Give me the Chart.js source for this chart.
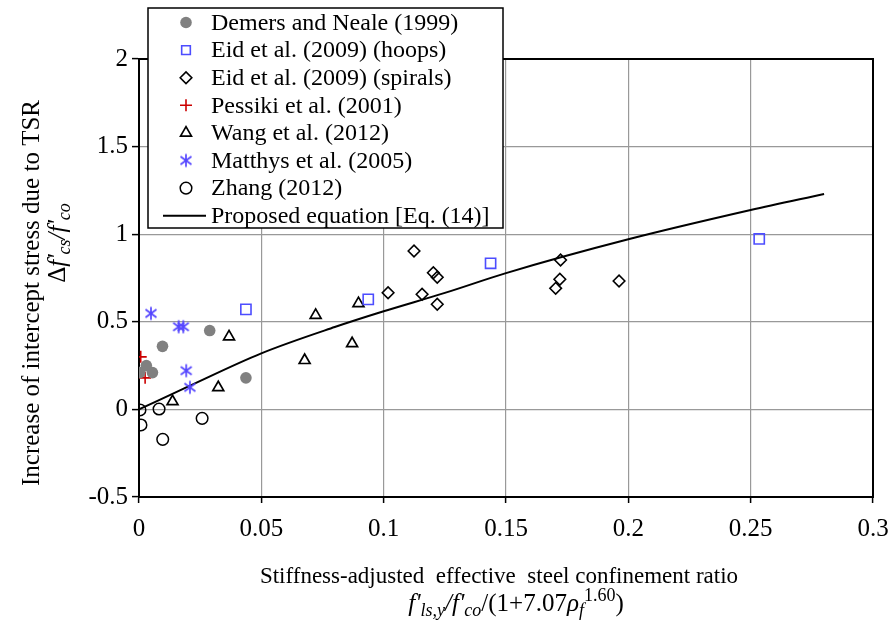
<!DOCTYPE html>
<html>
<head>
<meta charset="utf-8">
<script src="https://cdn.jsdelivr.net/npm/chart.js@4.4.1/dist/chart.umd.min.js"></script>
<style>
  html, body { margin: 0; padding: 0; background: #ffffff; }
  #wrap { width: 894px; height: 625px; position: relative; }
</style>
</head>
<body>
<div id="wrap"><canvas id="c" width="894" height="625"></canvas></div>
<script>
// Tick labels
const xTickLabels = ['0', '0.05', '0.1', '0.15', '0.2', '0.25', '0.3'];
const yTickLabels = ['-0.5', '0', '0.5', '1', '1.5', '2'];

// Series names (legend order)
const seriesNames = [
  'Demers and Neale (1999)',
  'Eid et al. (2009) (hoops)',
  'Eid et al. (2009) (spirals)',
  'Pessiki et al. (2001)',
  'Wang et al. (2012)',
  'Matthys et al. (2005)',
  'Zhang (2012)',
  'Proposed equation [Eq. (14)]'
];

// Test data: x = stiffness-adjusted confinement ratio, y = intercept stress increase
const demersX = [0.0003, 0.0030, 0.0055, 0.0096, 0.0289, 0.0437];
const demersY = [0.21, 0.25, 0.21, 0.36, 0.45, 0.18];

const eidHoopsX = [0.0437, 0.0937, 0.1437, 0.2535];
const eidHoopsY = [0.571, 0.628, 0.834, 0.973];

const eidSpiralsX = [0.1124, 0.1203, 0.1219, 0.1018, 0.1157, 0.1219, 0.1723, 0.1720, 0.1703, 0.1962];
const eidSpiralsY = [0.904, 0.780, 0.754, 0.666, 0.657, 0.600, 0.853, 0.743, 0.691, 0.733];

const pessikiX = [0.0007, 0.0025];
const pessikiY = [0.30, 0.18];

const wangX = [0.0137, 0.0324, 0.0368, 0.0677, 0.0722, 0.0871, 0.0897];
const wangY = [0.045, 0.125, 0.415, 0.280, 0.538, 0.376, 0.605];

const matthysX = [0.0049, 0.0162, 0.0181, 0.0193, 0.0208];
const matthysY = [0.548, 0.472, 0.472, 0.221, 0.126];

const zhangX = [0.0004, 0.0082, 0.0008, 0.0097, 0.0258];
const zhangY = [-0.003, 0.002, -0.089, -0.171, -0.051];

// Proposed equation curve
const proposedX = [0, 0.02, 0.05, 0.08, 0.10, 0.125, 0.15, 0.20, 0.25, 0.28];
const proposedY = [0, 0.13, 0.32, 0.47, 0.56, 0.665, 0.778, 0.971, 1.138, 1.23];

const SERIF = "'Liberation Serif', 'Times New Roman', Times, serif";

const pairs = (xs, ys) => xs.map((x, i) => ({ x: x, y: ys[i] }));

// Six-armed asterisk marker
function makeAsterisk(color, size) {
  const cv = document.createElement('canvas');
  cv.width = size; cv.height = size;
  const g = cv.getContext('2d');
  const c = size / 2;
  g.strokeStyle = color;
  g.lineWidth = 1.7;
  g.lineCap = 'butt';
  g.beginPath();
  g.moveTo(c, c - 6.5); g.lineTo(c, c + 6.5);
  g.moveTo(c - 5.5, c - 4); g.lineTo(c + 5.5, c + 4);
  g.moveTo(c - 5.5, c + 4); g.lineTo(c + 5.5, c - 4);
  g.stroke();
  return cv;
}
const asteriskMarker = makeAsterisk('#5546ff', 16);

const datasets = [
  { label: seriesNames[0], data: pairs(demersX, demersY), pointStyle: 'circle', pointRadius: 5.8,
    backgroundColor: '#808080', borderColor: '#808080', borderWidth: 0 },
  { label: seriesNames[1], data: pairs(eidHoopsX, eidHoopsY), pointStyle: 'rect', pointRadius: 7.2,
    backgroundColor: 'rgba(0,0,0,0)', borderColor: '#4d4dff', borderWidth: 1.6 },
  { label: seriesNames[2], data: pairs(eidSpiralsX, eidSpiralsY), pointStyle: 'rectRot', pointRadius: 5.8,
    backgroundColor: 'rgba(0,0,0,0)', borderColor: '#000000', borderWidth: 1.6 },
  { label: seriesNames[3], data: pairs(pessikiX, pessikiY), pointStyle: 'cross', pointRadius: 6,
    backgroundColor: '#cc0000', borderColor: '#cc0000', borderWidth: 1.6 },
  { label: seriesNames[4], data: pairs(wangX, wangY), pointStyle: 'triangle', pointRadius: 6.3,
    backgroundColor: 'rgba(0,0,0,0)', borderColor: '#000000', borderWidth: 1.7 },
  { label: seriesNames[5], data: pairs(matthysX, matthysY), pointStyle: asteriskMarker, pointRadius: 7,
    backgroundColor: '#5546ff', borderColor: '#5546ff', borderWidth: 1.5 },
  { label: seriesNames[6], data: pairs(zhangX, zhangY), pointStyle: 'circle', pointRadius: 5.8,
    backgroundColor: 'rgba(0,0,0,0)', borderColor: '#000000', borderWidth: 1.5 },
  { label: seriesNames[7], data: pairs(proposedX, proposedY), showLine: true, pointRadius: 0,
    borderColor: '#000000', borderWidth: 2, cubicInterpolationMode: 'monotone', fill: false }
];

const labelFor = (list) => (value) => {
  const hit = list.find(l => Math.abs(parseFloat(l) - value) < 1e-9);
  return hit === undefined ? '' : hit;
};

// Draw a run of mixed-style text segments centred on (cx, baseline)
function drawRich(ctx, segs, cx, baseline) {
  let total = 0;
  segs.forEach(s => {
    ctx.font = (s.italic ? 'italic ' : '') + s.size + 'px ' + SERIF;
    s.w = ctx.measureText(s.t).width;
    total += s.w;
  });
  let x = cx - total / 2;
  segs.forEach(s => {
    ctx.font = (s.italic ? 'italic ' : '') + s.size + 'px ' + SERIF;
    ctx.fillText(s.t, x, baseline + (s.dy || 0));
    x += s.w;
  });
}

const chromePlugin = {
  id: 'chrome',
  afterDraw(chart) {
    const ctx = chart.ctx;
    const area = chart.chartArea;
    ctx.save();
    ctx.fillStyle = '#000';
    ctx.textBaseline = 'alphabetic';
    ctx.textAlign = 'left';

    // X axis title
    const cxPlot = (area.left + area.right) / 2;
    ctx.font = '23px ' + SERIF;
    ctx.textAlign = 'center';
    ctx.fillText('Stiffness-adjusted  effective  steel confinement ratio', 499, 583);
    ctx.textAlign = 'left';
    const B = 25, S = 18;
    drawRich(ctx, [
      { t: "f'", italic: true, size: B },
      { t: 'ls,y', italic: true, size: S, dy: 5 },
      { t: '/', italic: true, size: B },
      { t: "f'", italic: true, size: B },
      { t: 'co', italic: true, size: S, dy: 5 },
      { t: '/(1+7.07', size: B },
      { t: 'ρ', italic: true, size: B },
      { t: 'f', italic: true, size: S, dy: 5 },
      { t: '1.60', size: S, dy: -10 },
      { t: ')', size: B }
    ], 516, 611);

    // Y axis title (rotated)
    ctx.save();
    ctx.rotate(-Math.PI / 2);
    ctx.font = '25px ' + SERIF;
    ctx.textAlign = 'center';
    ctx.fillText('Increase of intercept stress due to TSR', -293, 39);
    ctx.textAlign = 'left';
    drawRich(ctx, [
      { t: 'Δ', size: B },
      { t: "f'", italic: true, size: B },
      { t: 'cs', italic: true, size: S, dy: 5 },
      { t: '/', italic: true, size: B },
      { t: "f'", italic: true, size: B },
      { t: 'co', italic: true, size: S, dy: 5 }
    ], -243, 65);
    ctx.restore();

    // Legend box
    const lx = 148, ly = 8, lw = 355, lh = 220;
    ctx.fillStyle = '#ffffff';
    ctx.fillRect(lx, ly, lw, lh);
    ctx.strokeStyle = '#000000';
    ctx.lineWidth = 1.5;
    ctx.strokeRect(lx, ly, lw, lh);

    const rowTop = 22.5, rowStep = 27.6, markX = 186, textX = 211;
    ctx.font = '24px ' + SERIF;
    ctx.textBaseline = 'middle';
    chart.data.datasets.forEach((ds, i) => {
      const yRow = rowTop + i * rowStep;
      if (ds.showLine) {
        ctx.strokeStyle = ds.borderColor;
        ctx.lineWidth = ds.borderWidth;
        ctx.beginPath();
        ctx.moveTo(163, yRow);
        ctx.lineTo(206, yRow);
        ctx.stroke();
      } else {
        ctx.fillStyle = ds.backgroundColor;
        ctx.strokeStyle = ds.borderColor;
        ctx.lineWidth = ds.borderWidth;
        Chart.helpers.drawPoint(ctx, {
          pointStyle: ds.pointStyle, rotation: 0,
          radius: ds.pointStyle === 'rect' ? ds.pointRadius * 0.85 : ds.pointRadius,
          borderWidth: ds.borderWidth
        }, markX, yRow);
      }
      ctx.fillStyle = '#000000';
      ctx.fillText(ds.label, textX, yRow + 1);
    });
    ctx.restore();
  }
};

// Keep the plot frame fixed regardless of tick-label overhang
const fixHorizontal = (h) => (s) => { s.height = h; s.paddingLeft = 0; s.paddingRight = 0; };
const fixVertical = (w) => (s) => { s.width = w; s.paddingTop = 0; s.paddingBottom = 0; };

new Chart(document.getElementById('c'), {
  type: 'scatter',
  data: { datasets: datasets },
  plugins: [chromePlugin],
  options: {
    responsive: false,
    animation: false,
    devicePixelRatio: 1,
    layout: { padding: { left: 0, right: 21, top: 59, bottom: 0 } },
    plugins: { legend: { display: false }, tooltip: { enabled: false } },
    scales: {
      x: {
        type: 'linear', position: 'bottom', min: 0, max: 0.3,
        afterFit: fixHorizontal(128),
        ticks: { stepSize: 0.05, callback: labelFor(xTickLabels), color: '#000',
                 font: { family: SERIF, size: 25 }, padding: 11, maxRotation: 0 },
        grid: { color: '#999999', lineWidth: 1.2, tickColor: '#000', tickLength: 6, tickWidth: 1.5 },
        border: { color: '#000', width: 2 }
      },
      y: {
        type: 'linear', position: 'left', min: -0.5, max: 2,
        afterFit: fixVertical(139),
        ticks: { stepSize: 0.5, callback: labelFor(yTickLabels), color: '#000',
                 font: { family: SERIF, size: 25 }, padding: 4 },
        grid: { color: '#999999', lineWidth: 1.2, tickColor: '#000', tickLength: 7, tickWidth: 1.5 },
        border: { color: '#000', width: 2 }
      },
      x2: {
        type: 'linear', position: 'top', min: 0, max: 0.3,
        afterFit: fixHorizontal(0),
        ticks: { display: false },
        grid: { display: false, drawTicks: false },
        border: { display: true, color: '#000', width: 2 }
      },
      y2: {
        type: 'linear', position: 'right', min: -0.5, max: 2,
        afterFit: fixVertical(0),
        ticks: { display: false },
        grid: { display: false, drawTicks: false },
        border: { display: true, color: '#000', width: 2 }
      }
    }
  }
});
</script>
</body>
</html>
